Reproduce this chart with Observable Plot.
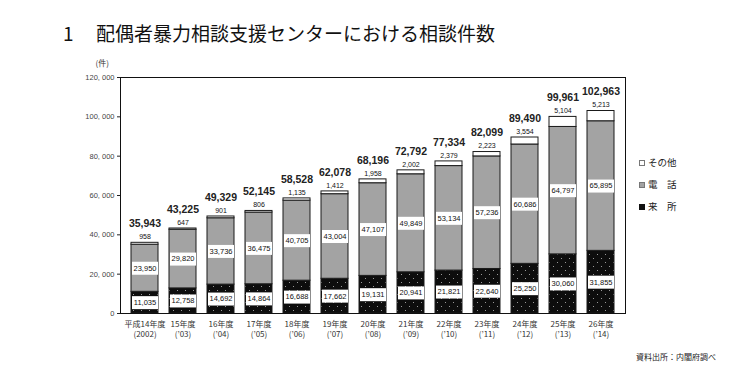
<!DOCTYPE html>
<html>
<head>
<meta charset="utf-8">
<script src="https://cdn.jsdelivr.net/npm/d3@7"></script>
<script src="https://cdn.jsdelivr.net/npm/@observablehq/plot@0.6"></script>
<style>
  html, body { margin: 0; padding: 0; background: #fff; }
  #wrap { position: relative; width: 733px; height: 377px; overflow: hidden; }
  #title { position: absolute; left: 63px; top: 20px; font: 400 19px "Noto Sans CJK JP", sans-serif; color: #111; white-space: nowrap; line-height: 26px; }
  #title .num { display: inline-block; width: 33px; }
  #legend { position: absolute; left: 639px; top: 155px; font: 9.5px "Noto Sans CJK JP", sans-serif; color: #222; }
  #legend div { height: 22px; line-height: 14px; white-space: nowrap; }
  #legend .sw { display: inline-block; width: 6px; height: 6px; margin-right: 3px; vertical-align: 0px; box-sizing: border-box; }
  #caption { position: absolute; right: 17px; top: 351px; font: 8px "Noto Sans CJK JP", sans-serif; color: #222; }
</style>
</head>
<body>
<div id="wrap">
  <div id="chart"></div>
  <div id="title"><span class="num">1</span>配偶者暴力相談支援センターにおける相談件数</div>
  <div id="legend"></div>
  <div id="caption">資料出所：内閣府調べ</div>
</div>
<script>
// ---- data ----
const categories = ["平成14年度\n(2002)", "15年度\n(’03)", "16年度\n(’04)", "17年度\n(’05)", "18年度\n(’06)", "19年度\n(’07)", "20年度\n(’08)", "21年度\n(’09)", "22年度\n(’10)", "23年度\n(’11)", "24年度\n(’12)", "25年度\n(’13)", "26年度\n(’14)"];
const seriesNames = ["来所", "電話", "その他"];
const raisho = [11035, 12758, 14692, 14864, 16688, 17662, 19131, 20941, 21821, 22640, 25250, 30060, 31855];
const denwa = [23950, 29820, 33736, 36475, 40705, 43004, 47107, 49849, 53134, 57236, 60686, 64797, 65895];
const sonota = [958, 647, 901, 806, 1135, 1412, 1958, 2002, 2379, 2223, 3554, 5104, 5213];
const totals = [35943, 43225, 49329, 52145, 58528, 62078, 68196, 72792, 77334, 82099, 89490, 99961, 102963];
const yTicks = [0, 20000, 40000, 60000, 80000, 100000, 120000];
const legendLabels = ["その他", "電　話", "来　所"];

// ---- build stacked table ----
const seriesValues = [raisho, denwa, sonota];
const stacked = [];
categories.forEach((c, i) => {
  let acc = 0;
  seriesNames.forEach((s, k) => {
    const v = seriesValues[k][i];
    stacked.push({cat: c, series: s, value: v, y1: acc, y2: acc + v});
    acc += v;
  });
});
const totalRows = categories.map((c, i) => ({cat: c, total: totals[i], other: sonota[i]}));
const boxed = stacked.filter(d => d.series !== "その他");

const fmt = d3.format(",");
const rectSymbol = {draw(ctx) { ctx.rect(-13, -6.5, 26, 13); }};
const numFont = "Liberation Sans, Arial, sans-serif";

const chart = Plot.plot({
  width: 733,
  height: 377,
  marginTop: 77,
  marginBottom: 64,
  marginLeft: 120,
  marginRight: 108,
  style: {fontFamily: numFont, background: "white", color: "#222"},
  x: {domain: categories, paddingInner: 0.3, paddingOuter: 0.15, label: null},
  y: {domain: [0, 120000], label: null},
  color: {domain: seriesNames, range: ["url(#dots)", "#a3a3a3", "#ffffff"]},
  marks: [
    Plot.barY(stacked, {x: "cat", y1: "y1", y2: "y2", fill: "series", stroke: "#1a1a1a", strokeWidth: 1}),
    Plot.dot(boxed, {x: "cat", y: d => (d.y1 + d.y2) / 2, symbol: rectSymbol, fill: "white", stroke: "none", r: 5}),
    Plot.text(boxed, {x: "cat", y: d => (d.y1 + d.y2) / 2, text: d => fmt(d.value), fontSize: 7.5, fill: "#111"}),
    Plot.text(totalRows, {x: "cat", y: "total", text: d => fmt(d.other), dy: -6, fontSize: 7, fill: "#111"}),
    Plot.text(totalRows, {x: "cat", y: "total", text: d => fmt(d.total), dy: -19, fontSize: 10.5, fontWeight: "bold", fill: "#222", letterSpacing: "0.3px"}),
    Plot.axisY({ticks: yTicks, tickFormat: d => fmt(d).replace(",", ", "), tickSize: 3, tickPadding: 3, fontSize: 7.5, fill: "#444"}),
    Plot.axisX({tickSize: 0, tickPadding: 6, fontSize: 8, fontFamily: "Noto Sans CJK JP, sans-serif", lineHeight: 1.3, fill: "#333"}),
    Plot.frame({stroke: "#111", strokeWidth: 1}),
    Plot.text(["(件)"], {frameAnchor: "top-left", dx: -25, dy: -17, fontSize: 8, fontFamily: "Noto Sans CJK JP, sans-serif", fill: "#333"})
  ]
});

// dotted pattern for 来所
const ns = "http://www.w3.org/2000/svg";
const defs = document.createElementNS(ns, "defs");
defs.innerHTML = `<pattern id="dots" patternUnits="userSpaceOnUse" width="8" height="8">
  <rect width="8" height="8" fill="#0d0d0d"/>
  <rect x="1" y="2" width="1" height="1" fill="#999"/>
  <rect x="5" y="6" width="1" height="1" fill="#999"/>
</pattern>`;
chart.insertBefore(defs, chart.firstChild);
document.getElementById("chart").appendChild(chart);

// legend
const legendFill = {"その他": ["#fff", "#777"], "電　話": ["#a3a3a3", "#777"], "来　所": ["#111", "#111"]};
const lg = document.getElementById("legend");
legendLabels.forEach(l => {
  const row = document.createElement("div");
  const sw = document.createElement("span");
  sw.className = "sw";
  sw.style.background = legendFill[l][0];
  sw.style.border = "1px solid " + legendFill[l][1];
  row.appendChild(sw);
  row.appendChild(document.createTextNode(l));
  lg.appendChild(row);
});
</script>
</body>
</html>
